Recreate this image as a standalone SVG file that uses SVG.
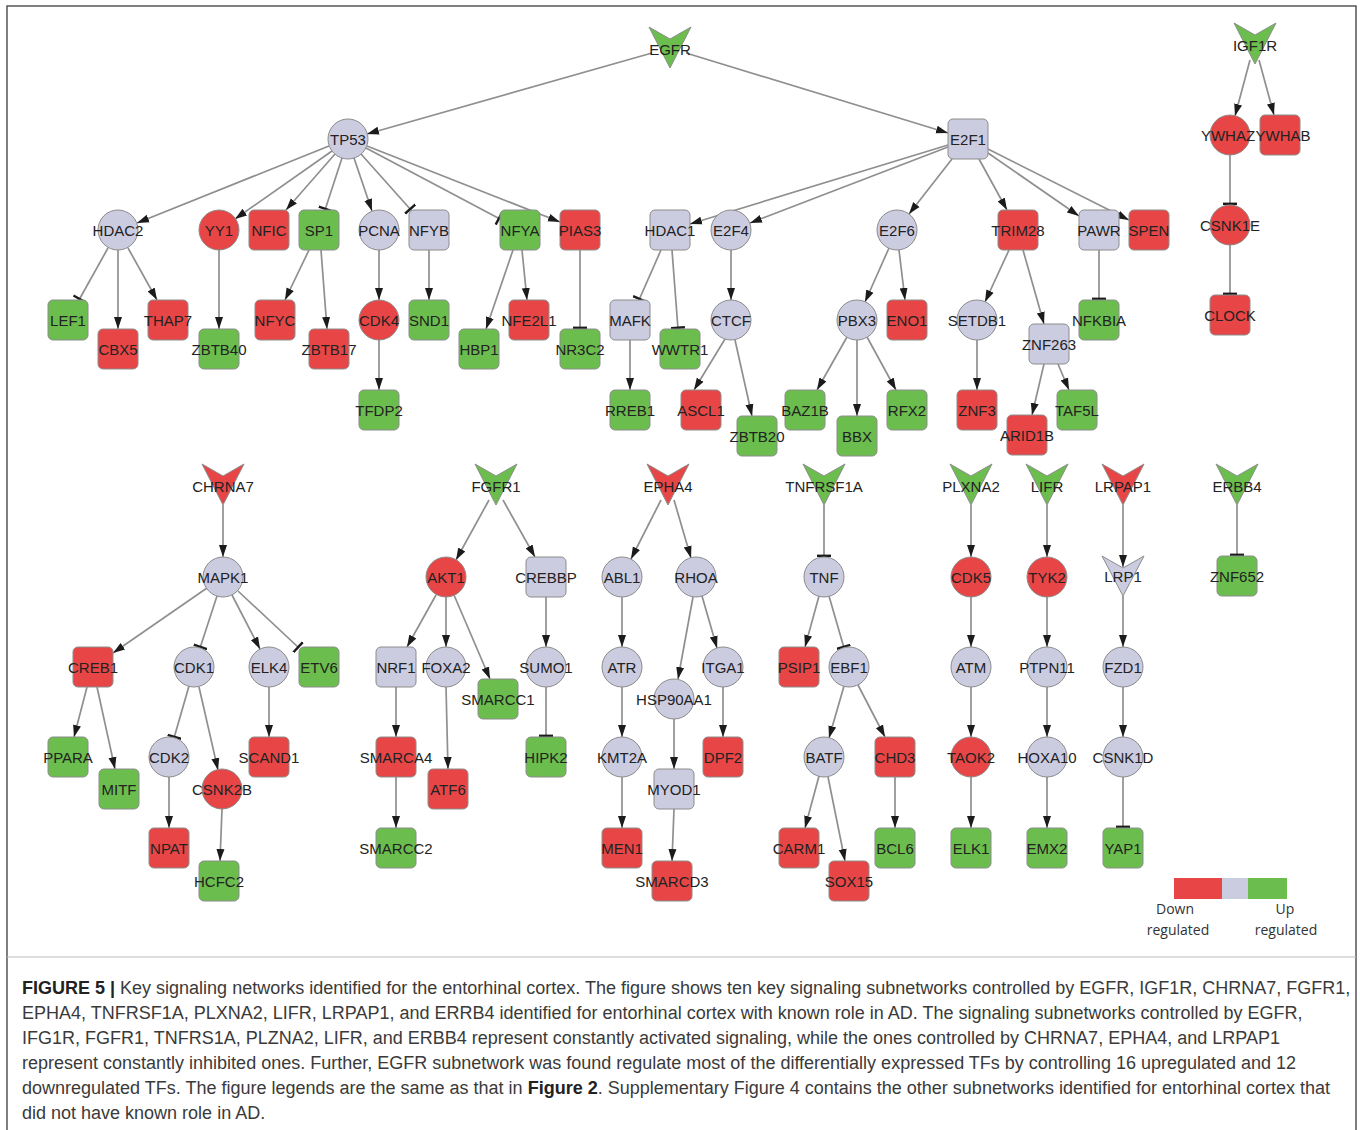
<svg xmlns="http://www.w3.org/2000/svg" width="1360" height="1130" viewBox="0 0 1360 1130">
<style>
.r{fill:#E84646}.g{fill:#6BBE4D}.l{fill:#CCCCE1}
.nd circle,.nd rect,.nd polygon{stroke:#8c8c8c;stroke-width:1}
.nd text{font-family:"Liberation Sans",Arial,sans-serif;font-size:15px;fill:#222;text-anchor:middle}
#edges line{stroke:#8f8f8f;stroke-width:1.7;fill:none}
#edges .a{marker-end:url(#arr)}
#edges .t{marker-end:url(#tee)}
.cap{font-family:"Liberation Sans",Arial,sans-serif;font-size:18px;fill:#3a3a3a}
.cap tspan.b{font-weight:bold;fill:#222}
.leg{font-family:"Open Sans","DejaVu Sans",sans-serif;font-size:14px;fill:#333;text-anchor:middle}
</style>
<defs>
<marker id="arr" markerUnits="userSpaceOnUse" markerWidth="12" markerHeight="10" viewBox="0 0 12 10" refX="12" refY="5" orient="auto"><path d="M0,1 L12,5 L0,9 Z" fill="#1b1b1b"/></marker>
<marker id="tee" markerUnits="userSpaceOnUse" markerWidth="4" markerHeight="14" viewBox="0 0 4 14" refX="3" refY="7" orient="auto"><rect x="0.6" y="0" width="2.4" height="14" fill="#1b1b1b"/></marker>
</defs>
<rect x="0" y="0" width="1360" height="1130" fill="#fff"/>
<rect x="7" y="6" width="1349" height="1140" fill="none" stroke="#555" stroke-width="1.5"/>
<line x1="7" y1="957" x2="1356" y2="957" stroke="#bbb" stroke-width="1"/>

<g id="edges">
<line class="a" x1="652" y1="53" x2="367" y2="134"/>
<line class="a" x1="686" y1="53" x2="948" y2="133"/>
<line class="a" x1="329" y1="146" x2="137" y2="223"/>
<line class="a" x1="332" y1="151" x2="235" y2="219"/>
<line class="a" x1="335" y1="154" x2="286" y2="210"/>
<line class="t" x1="342" y1="158" x2="325" y2="210"/>
<line class="a" x1="354" y1="158" x2="372" y2="211"/>
<line class="t" x1="361" y1="154" x2="411" y2="210"/>
<line class="t" x1="366" y1="148" x2="500" y2="219"/>
<line class="a" x1="367" y1="146" x2="560" y2="222"/>
<line class="t" x1="108" y1="248" x2="79" y2="300"/>
<line class="a" x1="118" y1="250" x2="118" y2="329"/>
<line class="a" x1="128" y1="248" x2="157" y2="300"/>
<line class="a" x1="219" y1="250" x2="219" y2="329"/>
<line class="a" x1="309" y1="250" x2="285" y2="300"/>
<line class="a" x1="321" y1="250" x2="327" y2="329"/>
<line class="a" x1="379" y1="250" x2="379" y2="300"/>
<line class="a" x1="379" y1="340" x2="379" y2="390"/>
<line class="a" x1="429" y1="250" x2="429" y2="300"/>
<line class="a" x1="513" y1="250" x2="486" y2="329"/>
<line class="a" x1="522" y1="250" x2="527" y2="300"/>
<line class="t" x1="580" y1="250" x2="580" y2="329"/>
<line class="a" x1="948" y1="145" x2="690" y2="224"/>
<line class="a" x1="948" y1="147" x2="750" y2="223"/>
<line class="a" x1="952" y1="159" x2="909" y2="214"/>
<line class="a" x1="979" y1="159" x2="1007" y2="210"/>
<line class="a" x1="988" y1="153" x2="1079" y2="216"/>
<line class="a" x1="988" y1="149" x2="1129" y2="220"/>
<line class="t" x1="661" y1="250" x2="639" y2="300"/>
<line class="t" x1="672" y1="250" x2="678" y2="329"/>
<line class="a" x1="630" y1="340" x2="630" y2="390"/>
<line class="a" x1="731" y1="250" x2="731" y2="300"/>
<line class="a" x1="725" y1="339" x2="694" y2="390"/>
<line class="a" x1="735" y1="340" x2="752" y2="416"/>
<line class="a" x1="889" y1="248" x2="865" y2="302"/>
<line class="a" x1="899" y1="250" x2="905" y2="300"/>
<line class="a" x1="847" y1="337" x2="817" y2="390"/>
<line class="a" x1="857" y1="340" x2="857" y2="416"/>
<line class="a" x1="867" y1="337" x2="896" y2="390"/>
<line class="a" x1="1009" y1="250" x2="985" y2="302"/>
<line class="a" x1="1023" y1="250" x2="1044" y2="324"/>
<line class="a" x1="977" y1="340" x2="977" y2="390"/>
<line class="a" x1="1044" y1="364" x2="1032" y2="415"/>
<line class="a" x1="1058" y1="364" x2="1069" y2="390"/>
<line class="t" x1="1099" y1="250" x2="1099" y2="300"/>
<line class="a" x1="1250" y1="60" x2="1235" y2="116"/>
<line class="a" x1="1259" y1="60" x2="1274" y2="115"/>
<line class="t" x1="1230" y1="155" x2="1230" y2="205"/>
<line class="t" x1="1230" y1="245" x2="1230" y2="295"/>
<line class="a" x1="223" y1="505" x2="223" y2="557"/>
<line class="a" x1="207" y1="588" x2="113" y2="653"/>
<line class="t" x1="217" y1="596" x2="200" y2="648"/>
<line class="a" x1="232" y1="595" x2="260" y2="649"/>
<line class="t" x1="238" y1="591" x2="299" y2="648"/>
<line class="a" x1="87" y1="687" x2="74" y2="737"/>
<line class="a" x1="97" y1="687" x2="115" y2="769"/>
<line class="t" x1="189" y1="686" x2="174" y2="738"/>
<line class="a" x1="199" y1="687" x2="218" y2="770"/>
<line class="a" x1="269" y1="687" x2="269" y2="737"/>
<line class="a" x1="169" y1="777" x2="169" y2="828"/>
<line class="a" x1="222" y1="809" x2="220" y2="861"/>
<line class="a" x1="489" y1="500" x2="456" y2="560"/>
<line class="a" x1="503" y1="500" x2="535" y2="557"/>
<line class="a" x1="436" y1="595" x2="407" y2="647"/>
<line class="a" x1="446" y1="597" x2="446" y2="647"/>
<line class="a" x1="454" y1="595" x2="490" y2="679"/>
<line class="a" x1="396" y1="687" x2="396" y2="737"/>
<line class="a" x1="396" y1="777" x2="396" y2="828"/>
<line class="a" x1="446" y1="687" x2="448" y2="769"/>
<line class="a" x1="546" y1="597" x2="546" y2="647"/>
<line class="t" x1="546" y1="687" x2="546" y2="737"/>
<line class="a" x1="661" y1="500" x2="631" y2="559"/>
<line class="a" x1="674" y1="500" x2="691" y2="558"/>
<line class="a" x1="622" y1="597" x2="622" y2="647"/>
<line class="a" x1="622" y1="687" x2="622" y2="737"/>
<line class="a" x1="622" y1="777" x2="622" y2="828"/>
<line class="a" x1="693" y1="597" x2="678" y2="679"/>
<line class="a" x1="702" y1="596" x2="717" y2="648"/>
<line class="a" x1="723" y1="687" x2="723" y2="737"/>
<line class="a" x1="674" y1="719" x2="674" y2="769"/>
<line class="a" x1="674" y1="809" x2="672" y2="861"/>
<line class="t" x1="824" y1="505" x2="824" y2="557"/>
<line class="a" x1="819" y1="596" x2="805" y2="647"/>
<line class="t" x1="829" y1="596" x2="844" y2="648"/>
<line class="a" x1="844" y1="686" x2="829" y2="738"/>
<line class="a" x1="858" y1="685" x2="885" y2="737"/>
<line class="a" x1="819" y1="776" x2="805" y2="828"/>
<line class="a" x1="828" y1="777" x2="845" y2="861"/>
<line class="a" x1="895" y1="777" x2="895" y2="828"/>
<line class="a" x1="971" y1="505" x2="971" y2="557"/>
<line class="a" x1="971" y1="597" x2="971" y2="647"/>
<line class="a" x1="971" y1="687" x2="971" y2="737"/>
<line class="a" x1="971" y1="777" x2="971" y2="828"/>
<line class="a" x1="1047" y1="505" x2="1047" y2="557"/>
<line class="a" x1="1047" y1="597" x2="1047" y2="647"/>
<line class="a" x1="1047" y1="687" x2="1047" y2="737"/>
<line class="a" x1="1047" y1="777" x2="1047" y2="828"/>
<line class="a" x1="1123" y1="505" x2="1123" y2="567"/>
<line class="a" x1="1123" y1="596" x2="1123" y2="647"/>
<line class="a" x1="1123" y1="687" x2="1123" y2="737"/>
<line class="t" x1="1123" y1="777" x2="1123" y2="828"/>
<line class="t" x1="1237" y1="505" x2="1237" y2="556"/>
</g>

<g class="nd">
<g id="EGFR"><polygon class="g" points="649,27 670,39 691,27 670,68"/><text x="670" y="55">EGFR</text></g>
<g id="IGF1R"><polygon class="g" points="1234,23 1255,35 1276,23 1255,64"/><text x="1255" y="51">IGF1R</text></g>
<g id="CHRNA7"><polygon class="r" points="202,464 223,476 244,464 223,505"/><text x="223" y="492">CHRNA7</text></g>
<g id="FGFR1"><polygon class="g" points="475,464 496,476 517,464 496,505"/><text x="496" y="492">FGFR1</text></g>
<g id="EPHA4"><polygon class="r" points="647,464 668,476 689,464 668,505"/><text x="668" y="492">EPHA4</text></g>
<g id="TNFRSF1A"><polygon class="g" points="803,464 824,476 845,464 824,505"/><text x="824" y="492">TNFRSF1A</text></g>
<g id="PLXNA2"><polygon class="g" points="950,464 971,476 992,464 971,505"/><text x="971" y="492">PLXNA2</text></g>
<g id="LIFR"><polygon class="g" points="1026,464 1047,476 1068,464 1047,505"/><text x="1047" y="492">LIFR</text></g>
<g id="LRPAP1"><polygon class="r" points="1102,464 1123,476 1144,464 1123,505"/><text x="1123" y="492">LRPAP1</text></g>
<g id="ERBB4"><polygon class="g" points="1216,464 1237,476 1258,464 1237,505"/><text x="1237" y="492">ERBB4</text></g>
<g id="LRP1"><polygon class="l" points="1102,556 1123,568 1144,556 1123,596"/><text x="1123" y="582">LRP1</text></g>

<g id="TP53"><circle class="l" cx="348" cy="139" r="20"/><text x="348" y="144.5">TP53</text></g>
<g id="E2F1"><rect class="l" x="948" y="119" width="40" height="40" rx="5"/><text x="968" y="144.5">E2F1</text></g>
<g id="HDAC2"><circle class="l" cx="118" cy="230" r="20"/><text x="118" y="235.5">HDAC2</text></g>
<g id="YY1"><circle class="r" cx="219" cy="230" r="20"/><text x="219" y="235.5">YY1</text></g>
<g id="NFIC"><rect class="r" x="249" y="210" width="40" height="40" rx="5"/><text x="269" y="235.5">NFIC</text></g>
<g id="SP1"><rect class="g" x="299" y="210" width="40" height="40" rx="5"/><text x="319" y="235.5">SP1</text></g>
<g id="PCNA"><circle class="l" cx="379" cy="230" r="20"/><text x="379" y="235.5">PCNA</text></g>
<g id="NFYB"><rect class="l" x="409" y="210" width="40" height="40" rx="5"/><text x="429" y="235.5">NFYB</text></g>
<g id="NFYA"><rect class="g" x="500" y="210" width="40" height="40" rx="5"/><text x="520" y="235.5">NFYA</text></g>
<g id="PIAS3"><rect class="r" x="560" y="210" width="40" height="40" rx="5"/><text x="580" y="235.5">PIAS3</text></g>
<g id="HDAC1"><rect class="l" x="650" y="210" width="40" height="40" rx="5"/><text x="670" y="235.5">HDAC1</text></g>
<g id="E2F4"><circle class="l" cx="731" cy="230" r="20"/><text x="731" y="235.5">E2F4</text></g>
<g id="E2F6"><circle class="l" cx="897" cy="230" r="20"/><text x="897" y="235.5">E2F6</text></g>
<g id="TRIM28"><rect class="r" x="998" y="210" width="40" height="40" rx="5"/><text x="1018" y="235.5">TRIM28</text></g>
<g id="PAWR"><rect class="l" x="1079" y="210" width="40" height="40" rx="5"/><text x="1099" y="235.5">PAWR</text></g>
<g id="SPEN"><rect class="r" x="1129" y="210" width="40" height="40" rx="5"/><text x="1149" y="235.5">SPEN</text></g>
<g id="LEF1"><rect class="g" x="48" y="300" width="40" height="40" rx="5"/><text x="68" y="325.5">LEF1</text></g>
<g id="CBX5"><rect class="r" x="98" y="329" width="40" height="40" rx="5"/><text x="118" y="354.5">CBX5</text></g>
<g id="THAP7"><rect class="r" x="148" y="300" width="40" height="40" rx="5"/><text x="168" y="325.5">THAP7</text></g>
<g id="ZBTB40"><rect class="g" x="199" y="329" width="40" height="40" rx="5"/><text x="219" y="354.5">ZBTB40</text></g>
<g id="NFYC"><rect class="r" x="255" y="300" width="40" height="40" rx="5"/><text x="275" y="325.5">NFYC</text></g>
<g id="ZBTB17"><rect class="r" x="309" y="329" width="40" height="40" rx="5"/><text x="329" y="354.5">ZBTB17</text></g>
<g id="CDK4"><circle class="r" cx="379" cy="320" r="20"/><text x="379" y="325.5">CDK4</text></g>
<g id="SND1"><rect class="g" x="409" y="300" width="40" height="40" rx="5"/><text x="429" y="325.5">SND1</text></g>
<g id="TFDP2"><rect class="g" x="359" y="390" width="40" height="40" rx="5"/><text x="379" y="415.5">TFDP2</text></g>
<g id="HBP1"><rect class="g" x="459" y="329" width="40" height="40" rx="5"/><text x="479" y="354.5">HBP1</text></g>
<g id="NFE2L1"><rect class="r" x="509" y="300" width="40" height="40" rx="5"/><text x="529" y="325.5">NFE2L1</text></g>
<g id="NR3C2"><rect class="g" x="560" y="329" width="40" height="40" rx="5"/><text x="580" y="354.5">NR3C2</text></g>
<g id="MAFK"><rect class="l" x="610" y="300" width="40" height="40" rx="5"/><text x="630" y="325.5">MAFK</text></g>
<g id="WWTR1"><rect class="g" x="660" y="329" width="40" height="40" rx="5"/><text x="680" y="354.5">WWTR1</text></g>
<g id="CTCF"><circle class="l" cx="731" cy="320" r="20"/><text x="731" y="325.5">CTCF</text></g>
<g id="RREB1"><rect class="g" x="610" y="390" width="40" height="40" rx="5"/><text x="630" y="415.5">RREB1</text></g>
<g id="ASCL1"><rect class="r" x="681" y="390" width="40" height="40" rx="5"/><text x="701" y="415.5">ASCL1</text></g>
<g id="ZBTB20"><rect class="g" x="737" y="416" width="40" height="40" rx="5"/><text x="757" y="441.5">ZBTB20</text></g>
<g id="PBX3"><circle class="l" cx="857" cy="320" r="20"/><text x="857" y="325.5">PBX3</text></g>
<g id="ENO1"><rect class="r" x="887" y="300" width="40" height="40" rx="5"/><text x="907" y="325.5">ENO1</text></g>
<g id="BAZ1B"><rect class="g" x="785" y="390" width="40" height="40" rx="5"/><text x="805" y="415.5">BAZ1B</text></g>
<g id="BBX"><rect class="g" x="837" y="416" width="40" height="40" rx="5"/><text x="857" y="441.5">BBX</text></g>
<g id="RFX2"><rect class="g" x="887" y="390" width="40" height="40" rx="5"/><text x="907" y="415.5">RFX2</text></g>
<g id="SETDB1"><circle class="l" cx="977" cy="320" r="20"/><text x="977" y="325.5">SETDB1</text></g>
<g id="ZNF263"><rect class="l" x="1029" y="324" width="40" height="40" rx="5"/><text x="1049" y="349.5">ZNF263</text></g>
<g id="NFKBIA"><rect class="g" x="1079" y="300" width="40" height="40" rx="5"/><text x="1099" y="325.5">NFKBIA</text></g>
<g id="ZNF3"><rect class="r" x="957" y="390" width="40" height="40" rx="5"/><text x="977" y="415.5">ZNF3</text></g>
<g id="ARID1B"><rect class="r" x="1007" y="415" width="40" height="40" rx="5"/><text x="1027" y="440.5">ARID1B</text></g>
<g id="TAF5L"><rect class="g" x="1057" y="390" width="40" height="40" rx="5"/><text x="1077" y="415.5">TAF5L</text></g>
<g id="YWHAZ"><circle class="r" cx="1230" cy="135" r="20"/><text x="1228" y="140.5">YWHAZ</text></g>
<g id="YWHAB"><rect class="r" x="1260" y="115" width="40" height="40" rx="5"/><text x="1283" y="140.5">YWHAB</text></g>
<g id="CSNK1E"><circle class="r" cx="1230" cy="225" r="20"/><text x="1230" y="230.5">CSNK1E</text></g>
<g id="CLOCK"><rect class="r" x="1210" y="295" width="40" height="40" rx="5"/><text x="1230" y="320.5">CLOCK</text></g>

<g id="MAPK1"><circle class="l" cx="223" cy="577" r="20"/><text x="223" y="582.5">MAPK1</text></g>
<g id="CREB1"><rect class="r" x="73" y="647" width="40" height="40" rx="5"/><text x="93" y="672.5">CREB1</text></g>
<g id="CDK1"><circle class="l" cx="194" cy="667" r="20"/><text x="194" y="672.5">CDK1</text></g>
<g id="ELK4"><circle class="l" cx="269" cy="667" r="20"/><text x="269" y="672.5">ELK4</text></g>
<g id="ETV6"><rect class="g" x="299" y="647" width="40" height="40" rx="5"/><text x="319" y="672.5">ETV6</text></g>
<g id="PPARA"><rect class="g" x="48" y="737" width="40" height="40" rx="5"/><text x="68" y="762.5">PPARA</text></g>
<g id="MITF"><rect class="g" x="99" y="769" width="40" height="40" rx="5"/><text x="119" y="794.5">MITF</text></g>
<g id="CDK2"><circle class="l" cx="169" cy="757" r="20"/><text x="169" y="762.5">CDK2</text></g>
<g id="CSNK2B"><circle class="r" cx="222" cy="789" r="20"/><text x="222" y="794.5">CSNK2B</text></g>
<g id="SCAND1"><rect class="r" x="249" y="737" width="40" height="40" rx="5"/><text x="269" y="762.5">SCAND1</text></g>
<g id="NPAT"><rect class="r" x="149" y="828" width="40" height="40" rx="5"/><text x="169" y="853.5">NPAT</text></g>
<g id="HCFC2"><rect class="g" x="199" y="861" width="40" height="40" rx="5"/><text x="219" y="886.5">HCFC2</text></g>

<g id="AKT1"><circle class="r" cx="446" cy="577" r="20"/><text x="446" y="582.5">AKT1</text></g>
<g id="CREBBP"><rect class="l" x="526" y="557" width="40" height="40" rx="5"/><text x="546" y="582.5">CREBBP</text></g>
<g id="NRF1"><rect class="l" x="376" y="647" width="40" height="40" rx="5"/><text x="396" y="672.5">NRF1</text></g>
<g id="FOXA2"><circle class="l" cx="446" cy="667" r="20"/><text x="446" y="672.5">FOXA2</text></g>
<g id="SMARCC1"><rect class="g" x="478" y="679" width="40" height="40" rx="5"/><text x="498" y="704.5">SMARCC1</text></g>
<g id="SUMO1"><circle class="l" cx="546" cy="667" r="20"/><text x="546" y="672.5">SUMO1</text></g>
<g id="SMARCA4"><rect class="r" x="376" y="737" width="40" height="40" rx="5"/><text x="396" y="762.5">SMARCA4</text></g>
<g id="ATF6"><rect class="r" x="428" y="769" width="40" height="40" rx="5"/><text x="448" y="794.5">ATF6</text></g>
<g id="HIPK2"><rect class="g" x="526" y="737" width="40" height="40" rx="5"/><text x="546" y="762.5">HIPK2</text></g>
<g id="SMARCC2"><rect class="g" x="376" y="828" width="40" height="40" rx="5"/><text x="396" y="853.5">SMARCC2</text></g>

<g id="ABL1"><circle class="l" cx="622" cy="577" r="20"/><text x="622" y="582.5">ABL1</text></g>
<g id="RHOA"><circle class="l" cx="696" cy="577" r="20"/><text x="696" y="582.5">RHOA</text></g>
<g id="ATR"><circle class="l" cx="622" cy="667" r="20"/><text x="622" y="672.5">ATR</text></g>
<g id="ITGA1"><circle class="l" cx="723" cy="667" r="20"/><text x="723" y="672.5">ITGA1</text></g>
<g id="HSP90AA1"><circle class="l" cx="674" cy="699" r="20"/><text x="674" y="704.5">HSP90AA1</text></g>
<g id="KMT2A"><circle class="l" cx="622" cy="757" r="20"/><text x="622" y="762.5">KMT2A</text></g>
<g id="DPF2"><rect class="r" x="703" y="737" width="40" height="40" rx="5"/><text x="723" y="762.5">DPF2</text></g>
<g id="MYOD1"><rect class="l" x="654" y="769" width="40" height="40" rx="5"/><text x="674" y="794.5">MYOD1</text></g>
<g id="MEN1"><rect class="r" x="602" y="828" width="40" height="40" rx="5"/><text x="622" y="853.5">MEN1</text></g>
<g id="SMARCD3"><rect class="r" x="652" y="861" width="40" height="40" rx="5"/><text x="672" y="886.5">SMARCD3</text></g>

<g id="TNF"><circle class="l" cx="824" cy="577" r="20"/><text x="824" y="582.5">TNF</text></g>
<g id="PSIP1"><rect class="r" x="779" y="647" width="40" height="40" rx="5"/><text x="799" y="672.5">PSIP1</text></g>
<g id="EBF1"><circle class="l" cx="849" cy="667" r="20"/><text x="849" y="672.5">EBF1</text></g>
<g id="BATF"><circle class="l" cx="824" cy="757" r="20"/><text x="824" y="762.5">BATF</text></g>
<g id="CHD3"><rect class="r" x="875" y="737" width="40" height="40" rx="5"/><text x="895" y="762.5">CHD3</text></g>
<g id="CARM1"><rect class="r" x="779" y="828" width="40" height="40" rx="5"/><text x="799" y="853.5">CARM1</text></g>
<g id="SOX15"><rect class="r" x="829" y="861" width="40" height="40" rx="5"/><text x="849" y="886.5">SOX15</text></g>
<g id="BCL6"><rect class="g" x="875" y="828" width="40" height="40" rx="5"/><text x="895" y="853.5">BCL6</text></g>

<g id="CDK5"><circle class="r" cx="971" cy="577" r="20"/><text x="971" y="582.5">CDK5</text></g>
<g id="ATM"><circle class="l" cx="971" cy="667" r="20"/><text x="971" y="672.5">ATM</text></g>
<g id="TAOK2"><circle class="r" cx="971" cy="757" r="20"/><text x="971" y="762.5">TAOK2</text></g>
<g id="ELK1"><rect class="g" x="951" y="828" width="40" height="40" rx="5"/><text x="971" y="853.5">ELK1</text></g>
<g id="TYK2"><circle class="r" cx="1047" cy="577" r="20"/><text x="1047" y="582.5">TYK2</text></g>
<g id="PTPN11"><circle class="l" cx="1047" cy="667" r="20"/><text x="1047" y="672.5">PTPN11</text></g>
<g id="HOXA10"><circle class="l" cx="1047" cy="757" r="20"/><text x="1047" y="762.5">HOXA10</text></g>
<g id="EMX2"><rect class="g" x="1027" y="828" width="40" height="40" rx="5"/><text x="1047" y="853.5">EMX2</text></g>
<g id="FZD1"><circle class="l" cx="1123" cy="667" r="20"/><text x="1123" y="672.5">FZD1</text></g>
<g id="CSNK1D"><circle class="l" cx="1123" cy="757" r="20"/><text x="1123" y="762.5">CSNK1D</text></g>
<g id="YAP1"><rect class="g" x="1103" y="828" width="40" height="40" rx="5"/><text x="1123" y="853.5">YAP1</text></g>
<g id="ZNF652"><rect class="g" x="1217" y="556" width="40" height="40" rx="5"/><text x="1237" y="581.5">ZNF652</text></g>
</g>

<g id="legend">
<rect x="1174" y="878" width="48" height="21" fill="#E84646"/>
<rect x="1222" y="878" width="26" height="21" fill="#CCCCE1"/>
<rect x="1248" y="878" width="39" height="21" fill="#6BBE4D"/>
<text class="leg" x="1175" y="914">Down</text>
<text class="leg" x="1178" y="935">regulated</text>
<text class="leg" x="1285" y="914">Up</text>
<text class="leg" x="1286" y="935">regulated</text>
</g>

<g id="caption" class="cap">
<text x="22" y="994"><tspan class="b">FIGURE 5 |</tspan> Key signaling networks identified for the entorhinal cortex. The figure shows ten key signaling subnetworks controlled by EGFR, IGF1R, CHRNA7, FGFR1,</text>
<text x="22" y="1019">EPHA4, TNFRSF1A, PLXNA2, LIFR, LRPAP1, and ERRB4 identified for entorhinal cortex with known role in AD. The signaling subnetworks controlled by EGFR,</text>
<text x="22" y="1044">IFG1R, FGFR1, TNFRS1A, PLZNA2, LIFR, and ERBB4 represent constantly activated signaling, while the ones controlled by CHRNA7, EPHA4, and LRPAP1</text>
<text x="22" y="1069">represent constantly inhibited ones. Further, EGFR subnetwork was found regulate most of the differentially expressed TFs by controlling 16 upregulated and 12</text>
<text x="22" y="1094">downregulated TFs. The figure legends are the same as that in <tspan class="b">Figure 2</tspan>. Supplementary Figure 4 contains the other subnetworks identified for entorhinal cortex that</text>
<text x="22" y="1119">did not have known role in AD.</text>
</g>
</svg>
